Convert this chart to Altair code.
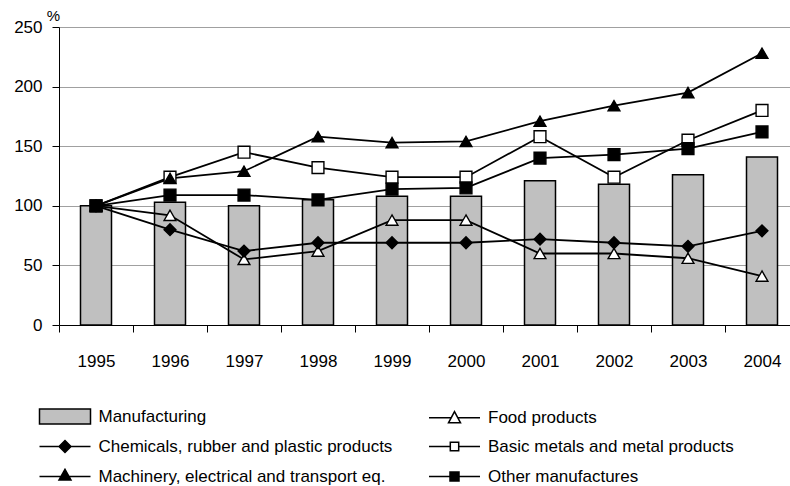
import altair as alt
import pandas as pd

# Index values, 1995 = 100
years = ["1995", "1996", "1997", "1998", "1999", "2000", "2001", "2002", "2003", "2004"]
manufacturing = [100, 103, 100, 105, 108, 108, 121, 118, 126, 141]
food = [100, 92, 55, 62, 88, 88, 60, 60, 56, 41]
chemicals = [100, 80, 62, 69, 69, 69, 72, 69, 66, 79]
metals = [100, 124, 145, 132, 124, 124, 158, 124, 155, 180]
machinery = [100, 123, 129, 158, 153, 154, 171, 184, 195, 228]
other = [100, 109, 109, 105, 114, 115, 140, 143, 148, 162]

bar_name = "Manufacturing"
line_names = [
    "Food products",
    "Chemicals, rubber and plastic products",
    "Basic metals and metal products",
    "Machinery, electrical and transport eq.",
    "Other manufactures",
]
line_values = [food, chemicals, metals, machinery, other]

# Marker style per line series
marker_shapes = ["triangle-up", "diamond", "square", "triangle-up", "square"]
marker_fills = ["white", "black", "white", "black", "black"]
marker_sizes = [140, 140, 95, 160, 110]

# Legend entries, listed column by column (left column first)
legend_order = [
    "Manufacturing",
    "Chemicals, rubber and plastic products",
    "Machinery, electrical and transport eq.",
    "Food products",
    "Basic metals and metal products",
    "Other manufactures",
]
# Legend keys: a line segment with the marker, or a wide box for the bars
legend_paths = [
    "M-4.25,-1.25H4.25V1.25H-4.25Z",
    "M-4.25,0H4.25M-1,0L0,-1L1,0L0,1Z",
    "M-4.25,0H4.25M0,-1.2L1,0.6L-1,0.6Z",
    "M-4.25,0H-0.54M0.54,0H4.25M0,-1L1,0.85L-1,0.85Z",
    "M-4.25,0H-0.7M0.7,0H4.25M-0.7,-0.7H0.7V0.7H-0.7Z",
    "M-4.25,0H4.25M-0.75,-0.75H0.75V0.75H-0.75Z",
]
legend_fills = ["#c0c0c0", "black", "black", "white", "white", "black"]

FONT = "Liberation Sans, Arial, sans-serif"
FS = 17

bars_df = pd.DataFrame({"year": years, "value": manufacturing, "series": bar_name})
rows = []
for name, vals in zip(line_names, line_values):
    for yr, v in zip(years, vals):
        rows.append({"year": yr, "series": name, "value": v})
lines_df = pd.DataFrame(rows)

x_enc = alt.X(
    "year:N",
    sort=years,
    scale=alt.Scale(range=[0, 740], paddingInner=0, paddingOuter=0),
    axis=alt.Axis(
        title=None,
        labelAngle=0,
        tickBand="extent",
        tickSize=7,
        tickColor="black",
        domainColor="black",
        labelPadding=21,
        labelFontSize=FS,
        labelFont=FONT,
        labelColor="black",
        grid=False,
    ),
)
y_enc = alt.Y(
    "value:Q",
    scale=alt.Scale(domain=[0, 250], nice=False),
    axis=alt.Axis(
        values=[0, 50, 100, 150, 200, 250],
        title="%",
        titleAngle=0,
        titleX=-6,
        titleY=-12,
        titleAlign="center",
        titleBaseline="middle",
        titleFont=FONT,
        titleFontSize=15,
        titleFontWeight="normal",
        titleColor="black",
        labelFont=FONT,
        labelFontSize=FS,
        labelColor="black",
        labelPadding=10,
        tickSize=7,
        tickColor="black",
        domainColor="black",
        gridColor="#a0a0a0",
        grid=True,
    ),
)

bars = alt.Chart(bars_df).mark_bar(
    size=31, fill="#c0c0c0", stroke="black", strokeWidth=1.5
).encode(x=x_enc, y=y_enc)

lines = alt.Chart(lines_df).mark_line(color="black", strokeWidth=1.8).encode(
    x=x_enc, y=y_enc, detail="series:N"
)

points = alt.Chart(lines_df).mark_point(
    filled=True, opacity=1, stroke="black", strokeWidth=1.4
).encode(
    x=x_enc,
    y=y_enc,
    shape=alt.Shape("series:N", scale=alt.Scale(domain=line_names, range=marker_shapes), legend=None),
    fill=alt.Fill("series:N", scale=alt.Scale(domain=line_names, range=marker_fills), legend=None),
    size=alt.Size("series:N", scale=alt.Scale(domain=line_names, range=marker_sizes), legend=None),
)

key_legend = alt.Legend(
    title=None,
    orient="none",
    legendX=-2.5,
    legendY=381,
    columns=2,
    padding=0,
    labelOffset=25,
    symbolSize=144,
    symbolStrokeWidth=1.5,
    rowPadding=10,
    columnPadding=33.5,
    labelFont=FONT,
    labelFontSize=FS,
    labelColor="black",
    labelLimit=500,
)

legend_layer = alt.Chart(lines_df).transform_filter("false").mark_point(
    filled=True, opacity=1, strokeWidth=1.5
).encode(
    shape=alt.Shape("series:N", scale=alt.Scale(domain=legend_order, range=legend_paths), legend=key_legend),
    fill=alt.Fill("series:N", scale=alt.Scale(domain=legend_order, range=legend_fills), legend=key_legend),
    stroke=alt.Stroke("series:N", scale=alt.Scale(domain=legend_order, range=["black"] * 6), legend=key_legend),
)

chart = (
    alt.layer(bars, lines, points, legend_layer)
    .resolve_scale(shape="independent", fill="independent", stroke="independent")
    .properties(
        width=731,
        height=298,
        autosize=alt.AutoSizeParams(type="none"),
        padding={"left": 59, "top": 27, "right": 0, "bottom": 161},
        background="white",
    )
    .configure_view(stroke=None)
)

chart.save("out.html", embed_options={"renderer": "svg", "actions": False})
